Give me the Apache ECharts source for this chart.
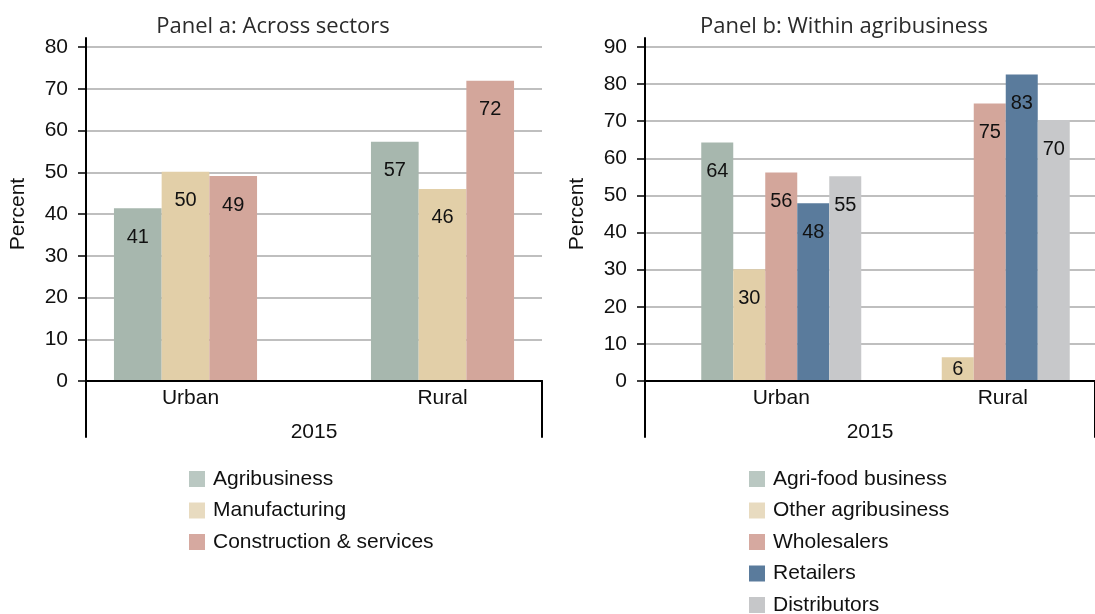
<!DOCTYPE html>
<html>
<head>
<meta charset="utf-8">
<script src="https://cdn.jsdelivr.net/npm/echarts@6/dist/echarts.min.js"></script>
<style>
html,body{margin:0;padding:0;background:#fff;}
#c{width:1095px;height:614px;}
</style>
</head>
<body>
<div id="c"></div>
<script>
// ---- data ----
const categories = ['Urban', 'Rural'];
const yearLabel = ['2015'];
const titleA = 'Panel a: Across sectors';
const titleB = 'Panel b: Within agribusiness';
const yAxisName = 'Percent';
const yTicksA = [0, 10, 20, 30, 40, 50, 60, 70, 80];
const yTicksB = [0, 10, 20, 30, 40, 50, 60, 70, 80, 90];

const namesA = ['Agribusiness', 'Manufacturing', 'Construction & services'];
const agribusinessA = [41.4, 57.3];
const manufacturingA = [50.1, 46.0];
const constructionA = [49.1, 71.9];

const namesB = ['Agri-food business', 'Other agribusiness', 'Wholesalers', 'Retailers', 'Distributors'];
const agriFoodB = [64.3, null];
const otherAgriB = [30.1, 6.4];
const wholesalersB = [56.2, 74.8];
const retailersB = [47.9, 82.6];
const distributorsB = [55.2, 70.3];

// ---- styles ----
const barColors = {
  agri: '#a7b7ae', manu: '#e2cfa8', cons: '#d3a69b', retail: '#5a7b9c', dist: '#c7c8ca'
};
const legendColors = {
  agri: '#bac8c2', manu: '#e8dbc0', cons: '#d6a9a0', retail: '#5a7b9c', dist: '#c6c7c9'
};
const FONT = '"Liberation Sans", Arial, Helvetica, sans-serif';
const TITLE_FONT = '"Open Sans", Lato, sans-serif';
const FS = 21;

const chart = echarts.init(document.getElementById('c'), null, {renderer: 'canvas'});

const TOP = 47, BOTTOM = 381, H = BOTTOM - TOP;
const FRAME_TOP = 38, FRAME_BOTTOM = 437;

function grids(mainLeft, barLeft, barWidth) {
  return [
    {left: mainLeft, width: 456, top: TOP, height: H},
    {left: barLeft, width: barWidth, top: TOP, height: H},
    {left: mainLeft, width: 456, top: FRAME_TOP, height: FRAME_BOTTOM - FRAME_TOP},
    {left: mainLeft, width: 456, top: BOTTOM, height: FRAME_BOTTOM - BOTTOM}
  ];
}

function xAxes(gi, shiftCat, shift) {
  return [
    {gridIndex: gi, type: 'category', data: categories, z: 10,
      axisLine: {show: true, lineStyle: {color: '#000', width: 2}},
      axisTick: {show: false}, axisLabel: {show: false}, splitLine: {show: false}},
    {gridIndex: gi + 1, type: 'category', data: categories,
      axisLine: {show: false}, axisTick: {show: false},
      axisLabel: {show: true, margin: 7, fontSize: FS, fontFamily: FONT, color: '#111',
        formatter: v => v === shiftCat ? '{s|' + v + '}' : v,
        rich: {s: {fontSize: FS, fontFamily: FONT, color: '#111', padding: [0, 0, 0, shift]}}}},
    {gridIndex: gi + 2, type: 'category', data: yearLabel, show: false},
    {gridIndex: gi + 3, type: 'category', data: yearLabel, position: 'bottom',
      axisLine: {show: false}, axisTick: {show: false},
      axisLabel: {show: true, margin: -15.5, fontSize: FS, fontFamily: FONT, color: '#111'}}
  ];
}

function yAxes(gi, ticks) {
  const mn = ticks[0], mx = ticks[ticks.length - 1], iv = ticks[1] - ticks[0];
  return [
    {gridIndex: gi, type: 'value', min: mn, max: mx, interval: iv,
      name: yAxisName, nameLocation: 'middle', nameGap: 57, nameRotate: 90,
      nameTextStyle: {fontSize: FS, fontFamily: FONT, color: '#111'},
      axisLine: {show: false},
      axisTick: {show: true, length: 8, lineStyle: {color: '#000', width: 1.5}},
      axisLabel: {margin: 18, fontSize: FS, fontFamily: FONT, color: '#111'},
      splitLine: {show: true, lineStyle: {color: '#aaaaaa', width: 1.5}}},
    {gridIndex: gi + 1, type: 'value', min: mn, max: mx, interval: iv, show: false},
    {gridIndex: gi + 2, type: 'value', min: 0, max: 1, z: 10,
      axisLine: {show: true, lineStyle: {color: '#000', width: 2}},
      axisTick: {show: false}, axisLabel: {show: false}, splitLine: {show: false}},
    {gridIndex: gi + 3, type: 'value', min: 0, max: 1, position: 'right', z: 10,
      axisLine: {show: true, lineStyle: {color: '#000', width: 2}},
      axisTick: {show: false}, axisLabel: {show: false}, splitLine: {show: false}}
  ];
}

function barSeries(name, values, color, xi, yi, bw) {
  return {
    type: 'bar', name: name, xAxisIndex: xi, yAxisIndex: yi,
    barWidth: bw, barGap: '0%',
    itemStyle: {color: color},
    data: values.map(v => (v != null && v < 10) ? {value: v, label: {position: 'inside'}} : v),
    label: {show: true, position: 'insideTop', distance: 19,
      fontSize: 20, fontFamily: FONT, color: '#111',
      formatter: p => Math.round(p.value)}
  };
}

function legend(left, names, colors) {
  return {orient: 'vertical', left: left, top: 468.5, height: 200, padding: 0,
    itemWidth: 16, itemHeight: 16, itemGap: 10.5,
    icon: 'rect', selectedMode: false,
    textStyle: {fontSize: FS, fontFamily: FONT, color: '#111', padding: [0, 0, 0, 3]},
    data: names.map((n, i) => ({name: n, itemStyle: {color: colors[i]}}))};
}

const option = {
  animation: false,
  backgroundColor: '#fff',
  title: [
    {text: titleA, left: 268, top: 11, textAlign: 'center',
      textStyle: {fontSize: 22, fontWeight: 'normal', fontFamily: TITLE_FONT, color: '#2b2b2b'}},
    {text: titleB, left: 839, top: 11, textAlign: 'center',
      textStyle: {fontSize: 22, fontWeight: 'normal', fontFamily: TITLE_FONT, color: '#2b2b2b'}}
  ],
  grid: grids(86, 57, 514).concat(grids(645, 677, 417)),
  xAxis: xAxes(0, 'Urban', 10).concat(xAxes(4, 'Rural', 26)),
  yAxis: yAxes(0, yTicksA).concat(yAxes(4, yTicksB)),
  legend: [
    legend(189, namesA, [legendColors.agri, legendColors.manu, legendColors.cons]),
    legend(749, namesB, [legendColors.agri, legendColors.manu, legendColors.cons, legendColors.retail, legendColors.dist])
  ],
  series: [
    barSeries(namesA[0], agribusinessA, barColors.agri, 1, 1, 47.7),
    barSeries(namesA[1], manufacturingA, barColors.manu, 1, 1, 47.7),
    barSeries(namesA[2], constructionA, barColors.cons, 1, 1, 47.7),
    barSeries(namesB[0], agriFoodB, barColors.agri, 5, 5, 32),
    barSeries(namesB[1], otherAgriB, barColors.manu, 5, 5, 32),
    barSeries(namesB[2], wholesalersB, barColors.cons, 5, 5, 32),
    barSeries(namesB[3], retailersB, barColors.retail, 5, 5, 32),
    barSeries(namesB[4], distributorsB, barColors.dist, 5, 5, 32)
  ]
};
chart.setOption(option);
</script>
</body>
</html>
